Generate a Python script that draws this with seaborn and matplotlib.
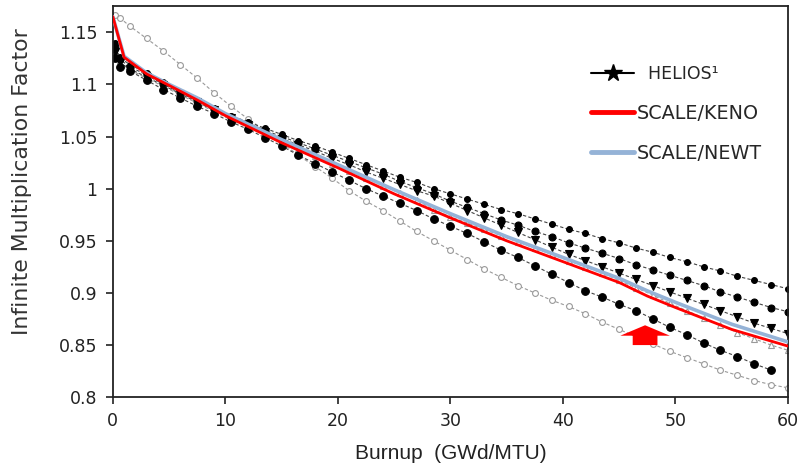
import matplotlib
matplotlib.use("Agg")
import matplotlib.pyplot as plt
from matplotlib.lines import Line2D
import seaborn as sns
import pandas as pd

# ---------------- data ----------------
HX = [0.2, 0.6, 1.5, 3.0, 4.5, 6.0, 7.5, 9.0, 10.5, 12.0, 13.5, 15.0, 16.5, 18.0,
      19.5, 21.0, 22.5, 24.0, 25.5, 27.0, 28.5, 30.0, 31.5, 33.0, 34.5, 36.0, 37.5,
      39.0, 40.5, 42.0, 43.5, 45.0, 46.5, 48.0, 49.5, 51.0, 52.5, 54.0, 55.5, 57.0,
      58.5, 60.0]

helios_a = [1.140, 1.126, 1.119, 1.111, 1.102, 1.093, 1.085, 1.077, 1.070, 1.064,
            1.058, 1.052, 1.046, 1.041, 1.035, 1.029, 1.023, 1.017, 1.011, 1.006,
            1.000, 0.995, 0.990, 0.985, 0.980, 0.976, 0.971, 0.966, 0.961, 0.957,
            0.952, 0.948, 0.943, 0.939, 0.934, 0.930, 0.925, 0.921, 0.916, 0.912,
            0.908, 0.904]
helios_b = [1.136, 1.124, 1.117, 1.109, 1.100, 1.092, 1.084, 1.076, 1.069, 1.063,
            1.056, 1.050, 1.044, 1.038, 1.032, 1.026, 1.020, 1.014, 1.007, 1.001,
            0.995, 0.988, 0.982, 0.976, 0.970, 0.965, 0.959, 0.954, 0.948, 0.943,
            0.938, 0.933, 0.927, 0.922, 0.917, 0.912, 0.907, 0.901, 0.896, 0.891,
            0.886, 0.882]
helios_c = [1.131, 1.121, 1.115, 1.107, 1.099, 1.091, 1.083, 1.075, 1.068, 1.061,
            1.054, 1.048, 1.042, 1.036, 1.029, 1.023, 1.016, 1.010, 1.004, 0.998,
            0.993, 0.986, 0.979, 0.972, 0.965, 0.958, 0.951, 0.944, 0.937, 0.931,
            0.925, 0.919, 0.913, 0.907, 0.901, 0.895, 0.889, 0.883, 0.877, 0.871,
            0.866, 0.861]
helios_d = [1.125, 1.117, 1.113, 1.104, 1.095, 1.087, 1.079, 1.072, 1.064, 1.057,
            1.049, 1.041, 1.032, 1.024, 1.016, 1.008, 1.000, 0.993, 0.986, 0.979,
            0.971, 0.964, 0.957, 0.949, 0.941, 0.934, 0.926, 0.918, 0.910, 0.902,
            0.896, 0.889, 0.883, 0.875, 0.867, 0.860, 0.852, 0.845, 0.839, 0.832,
            0.826]
helios_e = [1.167, 1.164, 1.156, 1.144, 1.132, 1.119, 1.106, 1.092, 1.079, 1.067,
            1.056, 1.044, 1.032, 1.021, 1.010, 0.998, 0.988, 0.979, 0.969, 0.959,
            0.950, 0.941, 0.932, 0.923, 0.915, 0.907, 0.900, 0.893, 0.887, 0.880,
            0.872, 0.865, 0.858, 0.851, 0.844, 0.838, 0.832, 0.826, 0.821, 0.816,
            0.812, 0.809]
helios_f = [1.128, 1.120, 1.114, 1.106, 1.098, 1.090, 1.082, 1.074, 1.066, 1.059,
            1.052, 1.045, 1.038, 1.031, 1.024, 1.017, 1.010, 1.003, 0.996, 0.989,
            0.980, 0.973, 0.967, 0.961, 0.955, 0.949, 0.943, 0.937, 0.931, 0.925,
            0.919, 0.912, 0.905, 0.898, 0.890, 0.883, 0.876, 0.869, 0.862, 0.856,
            0.850, 0.845]

SX = [0, 1, 3, 5, 7.5, 10, 15, 20, 25, 30, 35, 40, 45, 47.5, 50, 55, 60]
keno = [1.165, 1.126, 1.110, 1.099, 1.085, 1.070, 1.044, 1.020, 0.995, 0.972,
        0.950, 0.930, 0.910, 0.897, 0.886, 0.865, 0.849]
newt = [1.165, 1.127, 1.111, 1.100, 1.087, 1.072, 1.047, 1.023, 0.999, 0.976,
        0.954, 0.934, 0.914, 0.902, 0.891, 0.870, 0.853]

x_ticks = [0, 10, 20, 30, 40, 50, 60]
y_ticks = [0.8, 0.85, 0.9, 0.95, 1.0, 1.05, 1.1, 1.15]
y_tick_labels = ["0.8", "0.85", "0.9", "0.95", "1", "1.05", "1.1", "1.15"]
legend_labels = ["  HELIOS\u00b9", "SCALE/KENO", "SCALE/NEWT"]
x_label = "Burnup  (GWd/MTU)"
y_label = "Infinite Multiplication Factor"

# ---------------- style ----------------
sns.set_style("ticks")
plt.rcParams["font.family"] = ["DejaVu Sans"]

fig = plt.figure(figsize=(8, 4.74), dpi=100)
ax = fig.add_axes([0.141, 0.162, 0.844, 0.825])

red = "#ff0000"
blue = "#95b3d7"
grey = "#9a9a9a"

def draw(xs, ys, marker, ms, mfc, mec, lc, ls=(0, (3, 2)), lw=0.8, z=2):
    df = pd.DataFrame({"x": xs, "y": ys})
    sns.lineplot(data=df, x="x", y="y", ax=ax, estimator=None, sort=False,
                 color=lc, linestyle=ls, linewidth=lw, marker=marker,
                 markersize=ms, markerfacecolor=mfc, markeredgecolor=mec,
                 markeredgewidth=0.8, zorder=z)

# grey envelope series (open markers)
draw(HX, helios_e, "o", 4.2, "white", grey, grey)
draw(HX, helios_f, "^", 4.2, "white", grey, grey)
# black HELIOS series
draw(HX, helios_a, "o", 4.2, "black", "black", "#444444")
draw(HX, helios_b, "o", 5.0, "black", "black", "#444444")
draw(HX, helios_c, "v", 5.7, "black", "black", "#444444")
draw(HX[:len(helios_d)], helios_d, "o", 5.5, "black", "black", "#444444")

# SCALE results
sns.lineplot(x=SX, y=newt, ax=ax, color=blue, linewidth=2.6, estimator=None,
             sort=False, zorder=4)
sns.lineplot(x=SX, y=keno, ax=ax, color=red, linewidth=2.0, estimator=None,
             sort=False, zorder=5)

# red block arrow
ax.arrow(47.3, 0.850, 0, 0.019, width=2.2, head_width=4.4, head_length=0.010,
         length_includes_head=True, color=red, zorder=6, linewidth=0)

ax.set_xlim(0, 60)
ax.set_ylim(0.8, 1.175)
ax.set_xticks(x_ticks)
ax.set_xticklabels([str(t) for t in x_ticks])
ax.set_yticks(y_ticks)
ax.set_yticklabels(y_tick_labels)
ax.tick_params(axis="both", direction="out", length=5, width=1.2,
               labelsize=12.5, colors="#222222", pad=6)
for s in ax.spines.values():
    s.set_linewidth(1.3)
    s.set_color("#222222")

ax.set_xlabel(x_label, fontsize=15, family=["Liberation Sans"], color="#222222",
              labelpad=10)
ax.set_ylabel(y_label, fontsize=15.8, family=["DejaVu Sans"], color="#333333")
ax.yaxis.set_label_coords(-0.119, 0.552)

handles = [
    Line2D([0], [0], color="black", lw=1.5, marker="*", markersize=13),
    Line2D([0], [0], color=red, lw=3.5),
    Line2D([0], [0], color=blue, lw=3.5),
]
leg = ax.legend(handles, legend_labels, loc="upper left",
                bbox_to_anchor=(0.683, 0.893), frameon=False, fontsize=13.8,
                handlelength=2.24, handletextpad=0.16, labelspacing=1.09)
leg.get_texts()[0].set_fontsize(12.5)

fig.savefig("out.png", dpi=100)
